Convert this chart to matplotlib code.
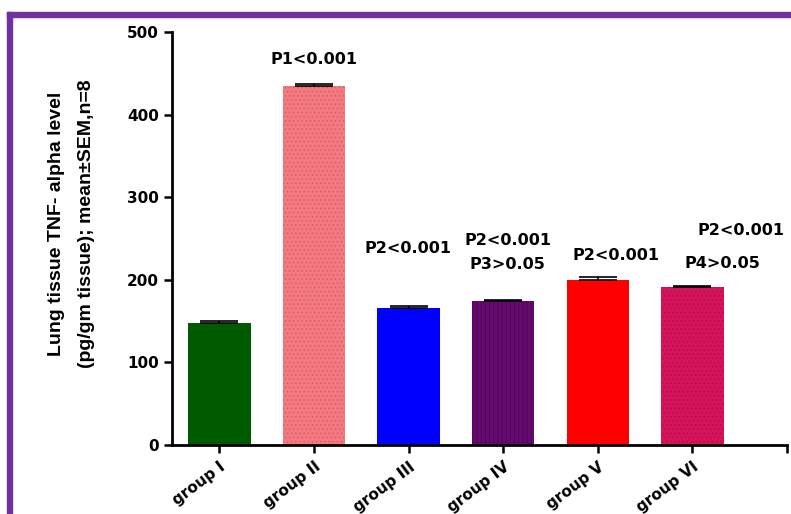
import numpy as np
import matplotlib
matplotlib.use("Agg")
import matplotlib.pyplot as plt
from matplotlib.patches import Rectangle
from matplotlib import font_manager

groups = ["group I", "group II", "group III", "group IV", "group V", "group VI"]
means = [148, 435, 166, 174, 200, 191]
sems = [2, 2, 2, 2, 4, 2]
colors = ["#005a00", "#f27a80", "#0000ff", "#650a6e", "#ff0000", "#d4145a"]
hatches = [None, "....", None, "||||", None, "...."]
hatch_cols = [None, "#e05a64", None, "#520058", None, "#b80a48"]

# p-value labels: (x position, y value, text)
p_labels = [
    (1.0, 466, "P1<0.001"),
    (1.99, 238, "P2<0.001"),
    (3.05, 248, "P2<0.001"),
    (3.05, 219, "P3>0.05"),
    (4.19, 230, "P2<0.001"),
    (5.51, 260, "P2<0.001"),
    (5.32, 220, "P4>0.05"),
]

names = {f.name for f in font_manager.fontManager.ttflist}
narrow = "Liberation Sans Narrow" if "Liberation Sans Narrow" in names else "Liberation Sans"

fig = plt.figure(figsize=(7.91, 5.14), dpi=100)
ax = fig.add_axes([0.2175, 0.134, 0.7775, 0.804])

x = np.arange(len(groups))
plt.rcParams["hatch.linewidth"] = 0.6
for i in range(len(groups)):
    ax.bar(x[i], means[i], 0.66, color=colors[i], edgecolor=hatch_cols[i] or colors[i],
           hatch=hatches[i], linewidth=0, zorder=2)
    ax.errorbar(x[i], means[i], yerr=[[0], [sems[i]]], fmt="none", ecolor="black",
                elinewidth=1.2, capsize=14, capthick=1.2, zorder=3)

for px, py, t in p_labels:
    ax.text(px, py, t, ha="center", va="center", fontsize=11.5,
            fontweight="bold", family="DejaVu Sans")

ax.set_xlim(-0.5, 6)
ax.set_ylim(0, 500)
ax.set_xticks(np.arange(7))
ax.set_xticklabels(groups + [""], rotation=37, ha="right", rotation_mode="anchor",
                   fontsize=11, fontweight="bold", family="DejaVu Sans")
ax.set_yticks(np.arange(0, 501, 100))
ax.set_yticklabels([str(v) for v in range(0, 501, 100)], fontsize=11,
                   fontweight="bold", family="DejaVu Sans")
ax.tick_params(direction="out", length=6, width=1.8)
ax.tick_params(axis="x", pad=4)
for s in ("top", "right"):
    ax.spines[s].set_visible(False)
for s in ("left", "bottom"):
    ax.spines[s].set_linewidth(2)
ax.set_ylabel("Lung tissue TNF- alpha level\n(pg/gm tissue); mean\u00b1SEM,n=8",
              fontsize=14, fontweight="bold", family=narrow, linespacing=2.0)
ax.yaxis.set_label_coords(-0.125, 0.535)

# purple frame along top and left edges
fig.patches.append(Rectangle((7 / 791, 0), 5 / 791, 1 - 12 / 514,
                             transform=fig.transFigure, color="#7030a0", zorder=0))
fig.patches.append(Rectangle((7 / 791, 1 - 17 / 514), 1, 5 / 514,
                             transform=fig.transFigure, color="#7030a0", zorder=0))

fig.savefig("out.png", dpi=100)
